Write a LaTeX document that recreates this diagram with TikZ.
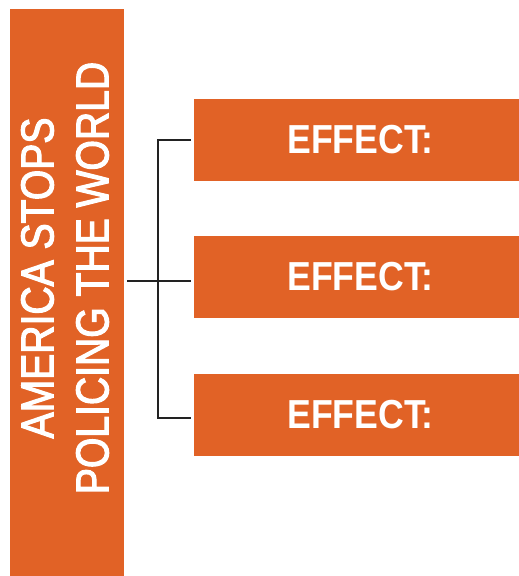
\documentclass[tikz,border=0pt]{standalone}
\usepackage{fontspec}
\newfontfamily\efont[FakeStretch=0.88]{Liberation Sans}
\newfontfamily\lfont[FakeStretch=0.85,FakeBold=2.5]{Liberation Sans}
\definecolor{orng}{HTML}{E16226}
\definecolor{conn}{HTML}{222222}
\begin{document}
\begin{tikzpicture}[x=1pt,y=-1pt,
  mainbox/.style={fill=orng,draw=none,minimum width=114pt,minimum height=567pt,inner sep=0pt},
  effbox/.style={fill=orng,draw=none,minimum width=325pt,minimum height=82pt,inner sep=0pt,
    text=white,font=\efont\bfseries\fontsize{40.5}{44}\selectfont},
  maintext/.style={rotate=90,align=center,text=white,inner sep=0pt,
    font=\lfont\fontsize{46}{55}\selectfont},
  link/.style={draw=conn,line width=2.6pt}]
\useasboundingbox (0,0) rectangle (519,576);
\node[mainbox] (L) at (67,292.5) {};
\node[maintext] (Lt) at (65,278) {AMERICA STOPS\\POLICING THE WORLD};
\node[effbox] (b1) at (356.5,140) {\hspace*{8pt}EFFECT:};
\node[effbox] (b2) at (356.5,277) {\hspace*{8pt}EFFECT:};
\node[effbox] (b3) at (356.5,414.5) {\hspace*{8pt}EFFECT:};
\coordinate (t) at (158,140);
\coordinate (m) at (158,281);
\coordinate (bt) at (158,418);
\draw[link,shorten <=3pt,shorten >=3pt] (L.east|-m) -- (b2.west|-m);
\draw[link,shorten <=3pt,shorten >=3pt] (b1.west|-t) -- (t) -- (bt) -- (b3.west|-bt);
\end{tikzpicture}
\end{document}
